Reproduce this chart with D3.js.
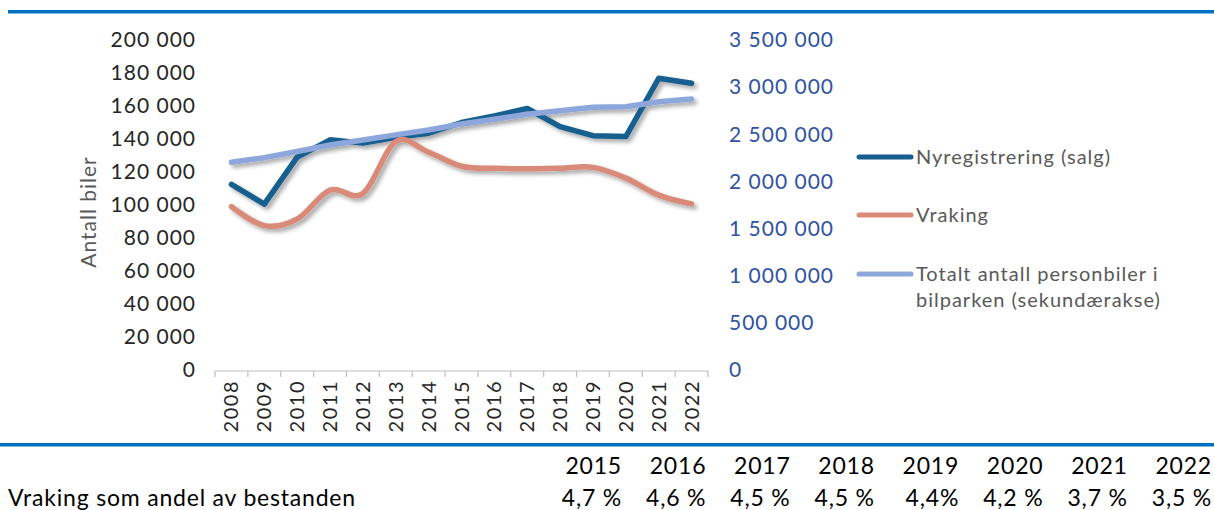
<!DOCTYPE html>
<html>
<head>
<meta charset="utf-8">
<script src="https://cdn.jsdelivr.net/npm/d3@7"></script>
<style>
  html, body { margin: 0; padding: 0; background: #fff; }
  svg { display: block; font-family: Lato, "Open Sans", sans-serif; }
</style>
</head>
<body>
<svg id="chart" width="1214" height="510"></svg>
<script>
// ---- Data ----
const years = ["2008","2009","2010","2011","2012","2013","2014","2015","2016","2017","2018","2019","2020","2021","2022"];
const nyregistrering = [112500, 100500, 129000, 139500, 137500, 141000, 143500, 150000, 154000, 158500, 147500, 142000, 141500, 176800, 173800];
const vraking = [99000, 87500, 91500, 109000, 107000, 138500, 132000, 123500, 122200, 122000, 122300, 122800, 116300, 106000, 100700];
const totalt = [2203000, 2252000, 2318000, 2386000, 2440000, 2494000, 2546000, 2609000, 2659000, 2712000, 2750000, 2786000, 2793000, 2846000, 2874000];
const leftTicks = [0, 20000, 40000, 60000, 80000, 100000, 120000, 140000, 160000, 180000, 200000];
const rightTicks = [0, 500000, 1000000, 1500000, 2000000, 2500000, 3000000, 3500000];
const seriesNames = ["Nyregistrering (salg)", "Vraking", ["Totalt antall personbiler i", "bilparken (sekundærakse)"]];
const tableYears = ["2015","2016","2017","2018","2019","2020","2021","2022"];
const tableShares = ["4,7 %","4,6 %","4,5 %","4,5 %","4,4%","4,2 %","3,7 %","3,5 %"];
const tableLabel = "Vraking som andel av bestanden";
const titleText = "Figur 1: Nyregistrering, vraking og bestand av personbiler i perioden 2008–2022";

// ---- Setup ----
const svg = d3.select("#chart");
const colors = { ny: "#175E8E", vr: "#D98A78", tot: "#8DA7DC" };
const fmt = v => d3.format(",")(v).replace(/,/g, " ");

const defs = svg.append("defs");
const f = defs.append("filter").attr("id", "shadow").attr("x", "-10%").attr("y", "-20%").attr("width", "130%").attr("height", "160%");
f.append("feDropShadow").attr("dx", 3).attr("dy", 3).attr("stdDeviation", 2)
  .attr("flood-color", "#000").attr("flood-opacity", 0.35);

// Title (clipped at top, as in the source) and rules
svg.append("text").attr("x", 8).attr("y", -3)
  .attr("fill", "#0070C0").attr("font-weight", "bold").attr("font-size", 19)
  .text(titleText);
svg.append("rect").attr("x", 8).attr("y", 10).attr("width", 1206).attr("height", 3.5).attr("fill", "#0070C0");
svg.append("rect").attr("x", 0).attr("y", 443).attr("width", 1214).attr("height", 3.5).attr("fill", "#0070C0");

// Scales
const x = d3.scaleBand().domain(years).range([215, 708]).padding(0);
const cx = d => x(d) + x.bandwidth() / 2;
const yL = d3.scaleLinear().domain([0, 200000]).range([370, 40]);
const yR = d3.scaleLinear().domain([0, 3500000]).range([370, 40]);

// Left axis
const gL = svg.append("g").attr("transform", "translate(196,0)")
  .call(d3.axisLeft(yL).tickValues(leftTicks).tickFormat(fmt).tickSize(0).tickPadding(0));
gL.select(".domain").remove();
gL.selectAll("text").attr("font-size", 21).attr("letter-spacing", 1).attr("fill", "#262626").attr("font-family", "Lato, sans-serif");

// Right axis
const gR = svg.append("g").attr("transform", "translate(729,0)")
  .call(d3.axisRight(yR).tickValues(rightTicks).tickFormat(fmt).tickSize(0).tickPadding(0));
gR.select(".domain").remove();
gR.selectAll("text").attr("font-size", 21).attr("letter-spacing", 1).attr("fill", "#2F52A3").attr("font-family", "Lato, sans-serif");

// Left axis title
svg.append("text").attr("transform", "translate(96,212) rotate(-90)")
  .attr("text-anchor", "middle").attr("font-size", 21).attr("letter-spacing", 1).attr("fill", "#595959")
  .text("Antall biler");

// X axis
svg.append("line").attr("x1", x.range()[0]).attr("x2", x.range()[1]).attr("y1", 371).attr("y2", 371)
  .attr("stroke", "#BFBFBF").attr("stroke-width", 1.2);
const bounds = years.map(d => x(d)).concat([x.range()[1]]);
svg.append("g").selectAll("line").data(bounds).join("line")
  .attr("x1", d => d).attr("x2", d => d).attr("y1", 371).attr("y2", 377)
  .attr("stroke", "#BFBFBF").attr("stroke-width", 1.2);
svg.append("g").selectAll("text").data(years).join("text")
  .attr("transform", d => `translate(${cx(d) + 7},380) rotate(-90)`)
  .attr("text-anchor", "end").attr("font-size", 20).attr("letter-spacing", 1.5).attr("fill", "#262626")
  .text(d => d);

// Lines
const lineNy = d3.line().x((d, i) => cx(years[i])).y(d => yL(d));
const lineVr = d3.line().x((d, i) => cx(years[i])).y(d => yL(d)).curve(d3.curveCardinal.tension(0));
const lineTot = d3.line().x((d, i) => cx(years[i])).y(d => yR(d));

const lg = svg.append("g").attr("fill", "none").attr("stroke-width", 5.5)
  .attr("stroke-linecap", "round").attr("stroke-linejoin", "round").attr("filter", "url(#shadow)");
lg.append("path").attr("d", lineNy(nyregistrering)).attr("stroke", colors.ny);
lg.append("path").attr("d", lineVr(vraking)).attr("stroke", colors.vr);
lg.append("path").attr("d", lineTot(totalt)).attr("stroke", colors.tot);

// Legend
const legY = [157, 215, 274];
const legC = [colors.ny, colors.vr, colors.tot];
const leg = svg.append("g");
seriesNames.forEach((name, i) => {
  leg.append("line").attr("x1", 859).attr("x2", 911).attr("y1", legY[i]).attr("y2", legY[i])
    .attr("stroke", legC[i]).attr("stroke-width", 5).attr("stroke-linecap", "round");
  const t = leg.append("text").attr("x", 916).attr("y", legY[i] + 7)
    .attr("font-size", 20).attr("letter-spacing", 1).attr("fill", "#595959");
  const lines = Array.isArray(name) ? name : [name];
  lines.forEach((l, j) => t.append("tspan").attr("x", 916).attr("dy", j === 0 ? 0 : 26).text(l));
});

// Bottom table
const colX = d3.scaleLinear().domain([0, tableYears.length - 1]).range([622, 1212]);
svg.append("g").selectAll("text").data(tableYears).join("text")
  .attr("x", (d, i) => colX(i)).attr("y", 474).attr("text-anchor", "end")
  .attr("font-size", 23).attr("letter-spacing", 0.8).attr("fill", "#000").text(d => d);
svg.append("g").selectAll("text").data(tableShares).join("text")
  .attr("x", (d, i) => colX(i)).attr("y", 506).attr("text-anchor", "end")
  .attr("font-size", 23).attr("letter-spacing", 0.8).attr("fill", "#000").text(d => d);
svg.append("text").attr("x", 8).attr("y", 506).attr("font-size", 23).attr("letter-spacing", 0.8)
  .attr("fill", "#000").text(tableLabel);
</script>
</body>
</html>
